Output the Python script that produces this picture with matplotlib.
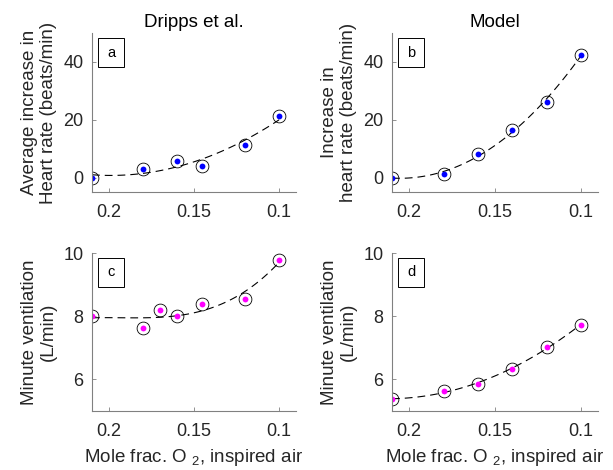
import numpy as np
import matplotlib
matplotlib.use("Agg")
import matplotlib.pyplot as plt
from matplotlib.patches import Rectangle

plt.rcParams['font.family'] = ['Liberation Sans', 'DejaVu Sans']
plt.rcParams['mathtext.fontset'] = 'custom'
plt.rcParams['mathtext.rm'] = 'Liberation Sans'
plt.rcParams['mathtext.it'] = 'Liberation Sans'

# datos
x_hr_exp = [0.21, 0.18, 0.16, 0.145, 0.12, 0.10]
hr_exp = [0.0, 3.0, 5.7, 4.1, 11.4, 21.3]

x_hr_mod = [0.21, 0.18, 0.16, 0.14, 0.12, 0.10]
hr_mod = [0.0, 1.3, 8.0, 16.3, 26.2, 42.4]

x_ve_exp = [0.21, 0.18, 0.17, 0.16, 0.145, 0.12, 0.10]
ve_exp = [8.0, 7.64, 8.19, 8.0, 8.38, 8.54, 9.79]

x_ve_mod = [0.21, 0.18, 0.16, 0.14, 0.12, 0.10]
ve_mod = [5.38, 5.62, 5.87, 6.32, 7.03, 7.72]

xticks = [0.2, 0.15, 0.1]
xticklabels = ['0.2', '0.15', '0.1']

GRIS = '#262626'
FS = 13.5

fig = plt.figure(figsize=(6.13, 4.70), dpi=100)
W, H = 613.0, 470.0


def caja(l, r, t, b):
    return [l / W, 1 - b / H, (r - l) / W, (b - t) / H]


def panel(pos, x, y, color, ylim, yticks, ylabel, letra, grado):
    ax = fig.add_axes(pos)
    xs = np.linspace(max(x), min(x), 100)
    c = np.polyfit(x, y, grado)
    ax.plot(xs, np.polyval(c, xs), '--', color='k', lw=0.8, dashes=(7, 4.5))
    ax.plot(x, y, 'o', mfc='none', mec='k', ms=9.2, mew=0.6)
    ax.plot(x, y, 'o', color=color, ms=4.2, mew=0)
    ax.set_xlim(0.21, 0.09)
    ax.set_ylim(*ylim)
    ax.set_xticks(xticks)
    ax.set_xticklabels(xticklabels)
    ax.set_yticks(yticks)
    for s in ['top', 'right']:
        ax.spines[s].set_visible(False)
    for s in ['left', 'bottom']:
        ax.spines[s].set_color('#808080')
        ax.spines[s].set_linewidth(0.8)
    ax.tick_params(direction='in', length=3, width=0.6, color='#808080',
                   labelsize=13, labelcolor=GRIS)
    ax.tick_params(axis='x', pad=9)
    ax.tick_params(axis='y', pad=6)
    ax.set_ylabel(ylabel, fontsize=FS, color=GRIS, linespacing=1.15, labelpad=5)
    # recuadro con la letra del panel
    ax.add_patch(Rectangle((0.029, 0.786), 0.128, 0.183, transform=ax.transAxes,
                           fc='white', ec='k', lw=0.7, clip_on=False))
    ax.text(0.093, 0.877, letra, transform=ax.transAxes, fontsize=10.5,
            va='center', ha='center')
    return ax


ax1 = panel(caja(92, 296, 33, 192), x_hr_exp, hr_exp, 'blue', (-5, 50),
            [0, 20, 40], 'Average increase in\nHeart rate (beats/min)', 'a', 2)
ax1.set_title('Dripps et al.', fontsize=FS, color='k', pad=4)

ax2 = panel(caja(392, 598, 33, 192), x_hr_mod, hr_mod, 'blue', (-5, 50),
            [0, 20, 40], 'Increase in\nheart rate (beats/min)', 'b', 3)
ax2.set_title('Model', fontsize=FS, color='k', pad=4)

ax3 = panel(caja(92, 296, 253, 411), x_ve_exp, ve_exp, 'magenta', (5, 10),
            [6, 8, 10], 'Minute ventilation\n(L/min)', 'c', 3)
ax3.set_xlabel('Mole frac. O $_2$, inspired air', fontsize=FS, color=GRIS,
               labelpad=5)

ax4 = panel(caja(392, 598, 253, 411), x_ve_mod, ve_mod, 'magenta', (5, 10),
            [6, 8, 10], 'Minute ventilation\n(L/min)', 'd', 3)
ax4.set_xlabel('Mole frac. O $_2$, inspired air', fontsize=FS, color=GRIS,
               labelpad=5)

fig.savefig('out.png', dpi=100)
